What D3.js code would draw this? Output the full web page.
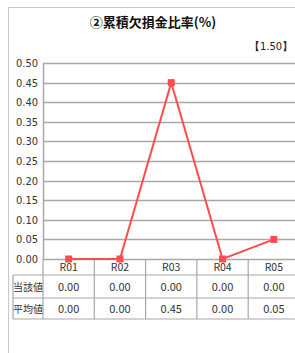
<!DOCTYPE html>
<html>
<head>
<meta charset="utf-8">
<script src="https://cdn.jsdelivr.net/npm/d3@7"></script>
<style>
  body { margin: 0; background: #fff; }
  svg { display: block; }
  text { font-family: "Noto Sans CJK JP", "DejaVu Sans Condensed", sans-serif; }
</style>
</head>
<body>
<div id="chart"></div>
<script>
// data
const categories = ["R01", "R02", "R03", "R04", "R05"];
const currentValues = [0.00, 0.00, 0.00, 0.00, 0.00];   // 当該値
const averageValues = [0.00, 0.00, 0.45, 0.00, 0.05];   // 平均値
const yTicks = [0, 0.05, 0.10, 0.15, 0.20, 0.25, 0.30, 0.35, 0.40, 0.45, 0.50];
const rowLabels = ["当該値", "平均値"];
const titleText = "②累積欠損金比率(%)";
const noteText = "【1.50】";

const width = 295, height = 353;
const plot = { left: 43, right: 299.5, top: 63, bottom: 259 };
const rowH = [16, 23, 21];
const lineColor = "#ff4d4d";
const numFont = "'Liberation Sans Narrow', 'DejaVu Sans Condensed', sans-serif";

const svg = d3.select("#chart").append("svg")
    .attr("width", width)
    .attr("height", height);

// outer frame
svg.append("path")
    .attr("d", `M8.5,${height} V7.5 H${width}`)
    .attr("fill", "none")
    .attr("stroke", "#c8c8c8");

svg.append("text")
    .attr("x", 153)
    .attr("y", 27)
    .attr("text-anchor", "middle")
    .style("font-size", "13px")
    .style("font-weight", "bold")
    .attr("fill", "#111")
    .text(titleText);

svg.append("text")
    .attr("x", 293)
    .attr("y", 50)
    .attr("text-anchor", "end")
    .style("font-size", "11px")
    .style("font-family", numFont)
    .attr("fill", "#222")
    .text(noteText);

const x = d3.scaleBand()
    .domain(categories)
    .range([plot.left, plot.right]);

const y = d3.scaleLinear()
    .domain([0, 0.5])
    .range([plot.bottom, plot.top]);

// gridlines
svg.append("g")
    .selectAll("line")
    .data(yTicks)
    .join("line")
    .attr("x1", plot.left)
    .attr("x2", width)
    .attr("y1", d => Math.round(y(d)) + 0.5)
    .attr("y2", d => Math.round(y(d)) + 0.5)
    .attr("stroke", "#a8a8a8")
    .attr("stroke-width", 1.5);

// y axis
const yAxis = svg.append("g")
    .attr("transform", `translate(${plot.left},0)`)
    .call(d3.axisLeft(y).tickValues(yTicks).tickFormat(d3.format(".2f")).tickSize(0).tickPadding(5));
yAxis.select(".domain").attr("stroke", "#a8a8a8").attr("stroke-width", 1.5);
yAxis.selectAll("text")
    .style("font-size", "11px")
    .style("font-family", numFont)
    .attr("fill", "#333");

// table
const tableTop = plot.bottom;
const rowY = [tableTop, tableTop + rowH[0], tableTop + rowH[0] + rowH[1], tableTop + rowH[0] + rowH[1] + rowH[2]];
const table = svg.append("g").attr("stroke", "#a8a8a8").attr("stroke-width", 1.2);

// horizontal rules
table.append("line").attr("x1", 13).attr("x2", width).attr("y1", rowY[1]).attr("y2", rowY[1]);
table.append("line").attr("x1", 13).attr("x2", width).attr("y1", rowY[2]).attr("y2", rowY[2]);
table.append("line").attr("x1", 13).attr("x2", width).attr("y1", rowY[3]).attr("y2", rowY[3]);
// vertical rules
table.selectAll("line.col")
    .data(categories.slice(1))
    .join("line")
    .attr("class", "col")
    .attr("x1", d => x(d))
    .attr("x2", d => x(d))
    .attr("y1", rowY[0])
    .attr("y2", rowY[3]);
table.append("line").attr("x1", plot.left).attr("x2", plot.left).attr("y1", rowY[0]).attr("y2", rowY[3]);
table.append("line").attr("x1", 13).attr("x2", 13).attr("y1", rowY[1]).attr("y2", rowY[3]);

const cellText = svg.append("g")
    .style("font-family", numFont)
    .attr("fill", "#333")
    .attr("text-anchor", "middle");

cellText.selectAll("text.cat")
    .data(categories)
    .join("text")
    .attr("class", "cat")
    .attr("x", d => x(d) + x.bandwidth() / 2)
    .attr("y", rowY[0] + 12)
    .style("font-size", "10.5px")
    .text(d => d);

[currentValues, averageValues].forEach((vals, i) => {
    cellText.selectAll(`text.v${i}`)
        .data(vals)
        .join("text")
        .attr("class", `v${i}`)
        .attr("x", (d, j) => x(categories[j]) + x.bandwidth() / 2)
        .attr("y", (rowY[i + 1] + rowY[i + 2]) / 2 + 4)
        .style("font-size", "11px")
        .text(d => d3.format(".2f")(d));
});

svg.append("g")
    .selectAll("text")
    .data(rowLabels)
    .join("text")
    .attr("x", 28)
    .attr("y", (d, i) => (rowY[i + 1] + rowY[i + 2]) / 2 + 4)
    .attr("text-anchor", "middle")
    .style("font-size", "10px")
    .attr("fill", "#333")
    .text(d => d);

// line + markers (平均値)
const pts = categories.map((c, i) => ({ c, v: averageValues[i] }));
const line = d3.line()
    .x(d => x(d.c) + x.bandwidth() / 2)
    .y(d => y(d.v));

svg.append("path")
    .datum(pts)
    .attr("d", line)
    .attr("fill", "none")
    .attr("stroke", lineColor)
    .attr("stroke-width", 2);

svg.selectAll("rect.marker")
    .data(pts)
    .join("rect")
    .attr("class", "marker")
    .attr("x", d => x(d.c) + x.bandwidth() / 2 - 3.5)
    .attr("y", d => y(d.v) - 3.5)
    .attr("width", 7)
    .attr("height", 7)
    .attr("fill", lineColor);
</script>
</body>
</html>
